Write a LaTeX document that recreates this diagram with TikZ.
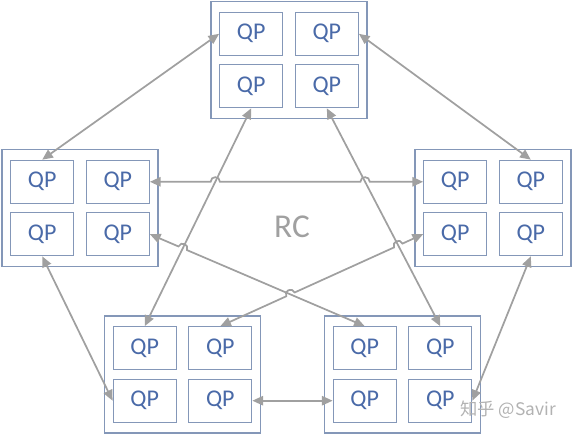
\documentclass[tikz,border=0pt]{standalone}
\usepackage{fontspec}
\setmainfont{Carlito}
\newfontfamily\cjkfont{Noto Sans CJK SC}
\usetikzlibrary{arrows.meta,calc}
\definecolor{qpblue}{HTML}{4A6AA8}
\definecolor{boxblue}{HTML}{8497B8}
\definecolor{linegray}{HTML}{A0A0A0}
\begin{document}
\begin{tikzpicture}[x=7.5pt,y=7.5pt]
\tikzstyle{every node}+=[inner sep=0pt]
\tikzstyle{rc}=[draw=boxblue, line width=0.9pt, minimum width=117pt, minimum height=87.75pt]
\tikzstyle{qp}=[draw=boxblue, line width=0.9pt, minimum width=47.25pt, minimum height=32.25pt, text=qpblue, font=\fontsize{18}{20}\selectfont]
\tikzstyle{link}=[linegray, line width=1.3pt, {Triangle[length=8pt,width=7pt]}-{Triangle[length=8pt,width=7pt]}]
\tikzstyle{hop}=[bend left=90, looseness=1.7]
\useasboundingbox (0,0) rectangle (57.2,-43.5);
\node [rc] (cT) at (28.9,-6.0) {};
\node [rc] (cL) at (8.0,-20.8) {};
\node [rc] (cR) at (49.3,-20.8) {};
\node [rc] (cBL) at (18.25,-37.45) {};
\node [rc] (cBR) at (40.25,-37.45) {};
\node [qp] (t1) at (25.12,-3.38) {QP};
\node [qp] (t2) at (32.68,-3.38) {QP};
\node [qp] (t3) at (25.12,-8.62) {QP};
\node [qp] (t4) at (32.68,-8.62) {QP};
\node [qp] (l1) at (4.22,-18.18) {QP};
\node [qp] (l2) at (11.78,-18.18) {QP};
\node [qp] (l3) at (4.22,-23.42) {QP};
\node [qp] (l4) at (11.78,-23.42) {QP};
\node [qp] (r1) at (45.52,-18.18) {QP};
\node [qp] (r2) at (53.08,-18.18) {QP};
\node [qp] (r3) at (45.52,-23.42) {QP};
\node [qp] (r4) at (53.08,-23.42) {QP};
\node [qp] (a1) at (14.47,-34.83) {QP};
\node [qp] (a2) at (22.03,-34.83) {QP};
\node [qp] (a3) at (14.47,-40.07) {QP};
\node [qp] (a4) at (22.03,-40.07) {QP};
\node [qp] (b1) at (36.47,-34.83) {QP};
\node [qp] (b2) at (44.03,-34.83) {QP};
\node [qp] (b3) at (36.47,-40.07) {QP};
\node [qp] (b4) at (44.03,-40.07) {QP};
\node [text=linegray, font=\fontsize{25}{28}\selectfont] (rclabel) at (29.2,-22.7) {RC};
\node [text=black!30, font=\cjkfont\fontsize{13}{15}\selectfont] (mark) at (50.8,-41.0) {知乎 @Savir};
\draw [link] (t1.west) -- (l1.north);
\draw [link] (t2.east) -- (r2.north);
\draw [link] (t3.south) -- (a1.north);
\draw [link] (t4.south) -- (b2.north);
\draw [link] (l3.south) -- (a3.west);
\draw [link] (r4.south) -- (b4.east);
\draw [link] (a4.east) -- (b3.west);
\coordinate (x1) at (intersection of l2.east--r1.west and t3.south--a1.north);
\coordinate (x2) at (intersection of l2.east--r1.west and t4.south--b2.north);
\coordinate (x3) at (intersection of l4.east--b1.north and t3.south--a1.north);
\coordinate (x4) at (intersection of a2.north--r3.west and l4.east--b1.north);
\coordinate (x5) at (intersection of a2.north--r3.west and t4.south--b2.north);
\draw [link] (l2.east) -- ($(x1)!3.5pt!(l2.east)$) to[hop] ($(x1)!3.5pt!(r1.west)$)
  -- ($(x2)!3.5pt!(l2.east)$) to[hop] ($(x2)!3.5pt!(r1.west)$) -- (r1.west);
\draw [link] (l4.east) -- ($(x3)!3.5pt!(l4.east)$) to[hop] ($(x3)!3.5pt!(b1.north)$) -- (b1.north);
\draw [link] (a2.north) -- ($(x4)!3.5pt!(a2.north)$) to[hop] ($(x4)!3.5pt!(r3.west)$)
  -- ($(x5)!3.5pt!(a2.north)$) to[hop] ($(x5)!3.5pt!(r3.west)$) -- (r3.west);
\end{tikzpicture}
\end{document}
